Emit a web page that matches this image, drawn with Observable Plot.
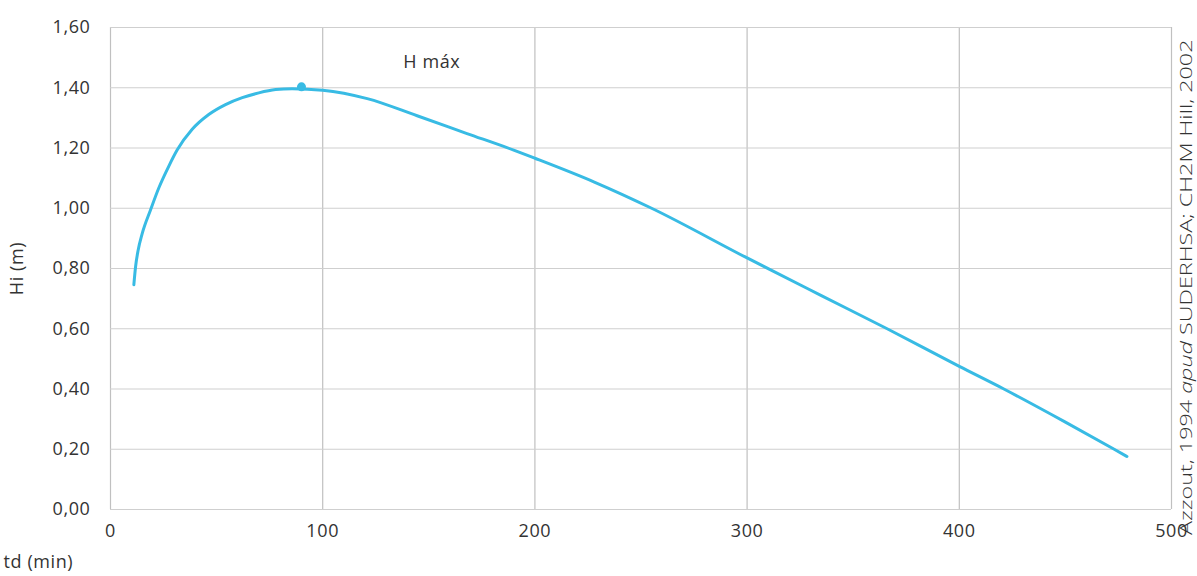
<!DOCTYPE html>
<html>
<head>
<meta charset="utf-8">
<script src="https://cdn.jsdelivr.net/npm/d3@7"></script>
<script src="https://cdn.jsdelivr.net/npm/@observablehq/plot@0.6"></script>
<style>
  html, body { margin: 0; padding: 0; background: #fff; }
  #wrap { position: relative; width: 1197px; height: 576px; overflow: hidden; }
</style>
</head>
<body>
<div id="wrap"></div>
<script>
// Data
const td = [11, 11.8, 13, 14.9, 18.9, 22.8, 27.5, 31.4, 38.5, 46.3, 54.2, 62.1, 69.9, 77.8, 85.6, 100, 121, 144.5, 168, 190, 200, 228, 255, 300, 335, 366, 400, 421, 450, 473, 479];
const hi = [0.746, 0.805, 0.860, 0.915, 0.995, 1.068, 1.140, 1.193, 1.262, 1.311, 1.344, 1.367, 1.383, 1.394, 1.397, 1.392, 1.364, 1.307, 1.248, 1.193, 1.166, 1.087, 1.00, 0.835, 0.71, 0.60, 0.475, 0.40, 0.29, 0.20, 0.176];
const peakTd = [90];
const peakHi = [1.403];
const labelText = ["H máx"];
const labelTd = [138];
const labelHi = [1.485];
const xTicks = [0, 100, 200, 300, 400, 500];
const yTicks = [0, 0.2, 0.4, 0.6, 0.8, 1.0, 1.2, 1.4, 1.6];
const captionParts = [["Azzout, 1994 ", "normal"], ["apud", "italic"], [" SUDERHSA; CH2M Hill, 2002", "normal"]];

const curve = td.map((t, i) => ({td: t, hi: hi[i]}));
const peak = peakTd.map((t, i) => ({td: t, hi: peakHi[i]}));
const labels = labelText.map((s, i) => ({text: s, td: labelTd[i], hi: labelHi[i]}));

const color = "#38bbe4";
const fmtY = d => d.toFixed(2).replace(".", ",");

const chart = Plot.plot({
  width: 1197,
  height: 576,
  marginLeft: 110,
  marginRight: 26,
  marginTop: 27,
  marginBottom: 67,
  style: {fontFamily: "'Open Sans', sans-serif", fontSize: "18px", color: "#333", background: "#fff", letterSpacing: "0.6px"},
  x: {domain: [0, 500]},
  y: {domain: [0, 1.6]},
  marks: [
    Plot.gridX(xTicks, {stroke: "#c0c0c0", strokeOpacity: 1, strokeWidth: 1.2}),
    Plot.gridY(yTicks, {stroke: "#cfcfcf", strokeOpacity: 1, strokeWidth: 1.2}),
    Plot.axisX(xTicks, {tickSize: 0, tickPadding: 15, label: "td (min)", labelAnchor: "left", labelOffset: 58, labelArrow: "none", fontSize: 18}),
    Plot.axisY(yTicks, {tickSize: 0, tickPadding: 20, tickFormat: fmtY, label: "Hi (m)", labelAnchor: "center", labelOffset: 100, labelArrow: "none", fontSize: 18}),
    Plot.line(curve, {x: "td", y: "hi", stroke: color, strokeWidth: 3, curve: "monotone-x"}),
    Plot.dot(peak, {x: "td", y: "hi", r: 4.5, fill: color}),
    Plot.text(labels, {x: "td", y: "hi", text: "text", textAnchor: "start", fontSize: 18, fill: "#333"})
  ]
});
document.getElementById("wrap").appendChild(chart);

// Source caption, rotated along the right edge (reads bottom to top)
const cap = d3.select(chart).append("text")
  .attr("text-anchor", "start")
  .attr("font-size", 15.5)
  .attr("font-weight", 300)
  .attr("fill", "#333")
  .style("letter-spacing", "0px");
captionParts.forEach(([s, st]) => cap.append("tspan").attr("font-style", st).text(s));
const natural = cap.node().getComputedTextLength();
const k = 496 / natural;
cap.attr("transform", `translate(1192,535) rotate(-90) scale(${k},1)`);
</script>
</body>
</html>
